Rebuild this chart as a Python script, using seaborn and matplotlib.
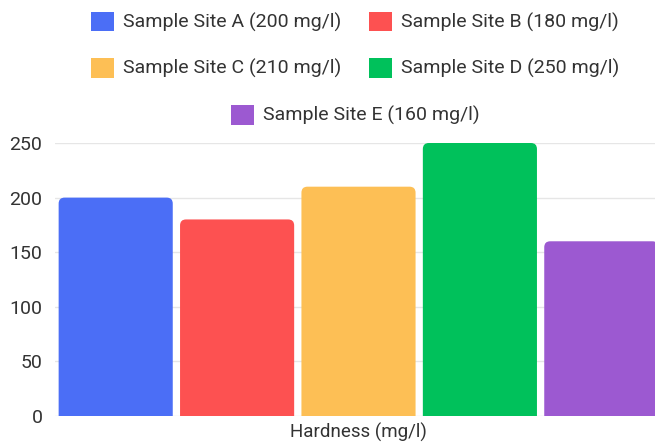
import matplotlib
matplotlib.use("Agg")
import matplotlib.pyplot as plt
import matplotlib.patches as mpatches
from matplotlib.patches import FancyBboxPatch
import seaborn as sns
import pandas as pd

# Water hardness measured at each sampling site
sites = ["Sample Site A", "Sample Site B", "Sample Site C", "Sample Site D", "Sample Site E"]
hardness = [200, 180, 210, 250, 160]
colors = ["#4B6EF6", "#FD5151", "#FDBF55", "#00C15B", "#9C59D1"]
category = "Hardness (mg/l)"
yticks = [0, 50, 100, 150, 200, 250]

df = pd.DataFrame({"category": category, "site": sites, "hardness": hardness})

sns.set_theme(style="white")
plt.rcParams["font.family"] = ["Roboto", "DejaVu Sans"]
text_color = "#333333"

W, H = 655, 443
fig = plt.figure(figsize=(W / 100, H / 100), dpi=100)
ax = fig.add_axes([55 / W, 1 - 416 / H, 607 / W, 273 / H])

sns.barplot(data=df, x="category", y="hardness", hue="site", hue_order=sites,
            palette=colors, width=1.0, gap=0.06, saturation=1, legend=False, ax=ax)

ax.set_xlim(-0.5, 0.5)
ax.set_ylim(0, 250)
ax.set_yticks(yticks)
ax.set_xlabel("")
ax.set_ylabel("")
for s in ax.spines.values():
    s.set_visible(False)
ax.yaxis.grid(True, color="#E6E6E6", linewidth=1)
ax.set_axisbelow(True)
ax.tick_params(axis="y", length=0, pad=9, labelsize=14, labelcolor=text_color)
ax.tick_params(axis="x", length=0, pad=5, labelsize=13.5, labelcolor=text_color)

# Round the top corners of each bar
fig.canvas.draw()
px_per_x = ax.transData.transform((1, 0))[0] - ax.transData.transform((0, 0))[0]
px_per_y = ax.transData.transform((0, 1))[1] - ax.transData.transform((0, 0))[1]
radius_px = 6
rx = radius_px / px_per_x
ry = radius_px / px_per_y
for p in list(ax.patches):
    x, y = p.get_x(), p.get_y()
    w, h = p.get_width(), p.get_height()
    fc = p.get_facecolor()
    p.remove()
    ax.add_patch(FancyBboxPatch((x, y - ry), w, h + ry,
                                boxstyle=f"round,pad=0,rounding_size={rx}",
                                mutation_aspect=ry / rx, facecolor=fc,
                                edgecolor="none", zorder=2))

handles = [mpatches.Patch(facecolor=c, edgecolor="none") for c in colors]
labels = [f"{s} ({v} mg/l)" for s, v in zip(sites, hardness)]

# Legend fills column-first, so order the entries to read row by row
order = [0, 2, 1, 3]
leg_kw = dict(frameon=False, fontsize=14, handlelength=1.2, handleheight=1.2,
              handletextpad=0.45, labelcolor=text_color)
fig.legend([handles[i] for i in order], [labels[i] for i in order], ncol=2,
           loc="center", bbox_to_anchor=(355 / W, 1 - 45 / H), columnspacing=1.4,
           labelspacing=1.3, **leg_kw)
fig.legend(handles[4:], labels[4:], loc="center",
           bbox_to_anchor=(355 / W, 1 - 115 / H), **leg_kw)

fig.savefig("out.png", dpi=100)
